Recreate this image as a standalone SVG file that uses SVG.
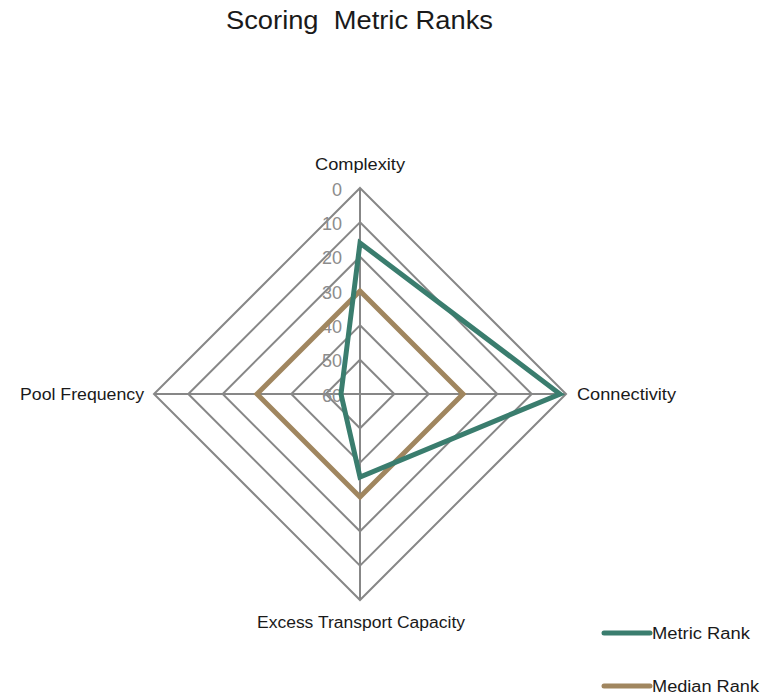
<svg xmlns="http://www.w3.org/2000/svg" width="776" height="697" viewBox="0 0 776 697">
<style>
text{font-family:"Liberation Sans","Noto Sans",sans-serif;fill:#1a1a1a}
.grid{fill:none;stroke:#878787;stroke-width:2}
.tick{fill:#8c8c8c;font-size:18px;text-anchor:end}
.lab{font-size:16px}
.metric{fill:none;stroke:#3a7d6e;stroke-width:5;stroke-linejoin:miter}
.median{fill:none;stroke:#a0865f;stroke-width:5;stroke-linejoin:miter}
</style>
<rect width="776" height="697" fill="#fff"/>
<text x="226" y="29" font-size="25" xml:space="preserve" style="white-space:pre" textLength="267" lengthAdjust="spacingAndGlyphs">Scoring  Metric Ranks</text>
<g id="grid">
<polygon class="grid" points="360,188 566,394 360,600 154,394"/>
<polygon class="grid" points="360,222.3 531.7,394 360,565.7 188.3,394"/>
<polygon class="grid" points="360,256.7 497.3,394 360,531.3 222.7,394"/>
<polygon class="grid" points="360,291 463,394 360,497 257,394"/>
<polygon class="grid" points="360,325.3 428.7,394 360,462.7 291.3,394"/>
<polygon class="grid" points="360,359.7 394.3,394 360,428.3 325.7,394"/>
<line class="grid" x1="360" y1="188" x2="360" y2="600"/>
<line class="grid" x1="154" y1="394" x2="566" y2="394"/>
</g>
<g id="ticks">
<text class="tick" x="342" y="196">0</text>
<text class="tick" x="342" y="230">10</text>
<text class="tick" x="342" y="264">20</text>
<text class="tick" x="342" y="299">30</text>
<text class="tick" x="342" y="333">40</text>
<text class="tick" x="342" y="367">50</text>
<text class="tick" x="342" y="402">60</text>
</g>
<g id="connectors">
<polygon id="median" class="median" points="360,291 463,394 360,497 257,394"/>
<polygon id="metric" class="metric" points="360,243 560,394 360,477 341,394"/>
</g>
<g id="node-complexity"><text class="lab" x="315" y="170" textLength="90" lengthAdjust="spacingAndGlyphs">Complexity</text></g>
<g id="node-connectivity"><text class="lab" x="577" y="400" textLength="99" lengthAdjust="spacingAndGlyphs">Connectivity</text></g>
<g id="node-pool"><text class="lab" x="20" y="400" textLength="124" lengthAdjust="spacingAndGlyphs">Pool Frequency</text></g>
<g id="node-excess"><text class="lab" x="257" y="628" textLength="208" lengthAdjust="spacingAndGlyphs">Excess Transport Capacity</text></g>
<g id="legend">
<line x1="604" y1="633" x2="650" y2="633" stroke="#3a7d6e" stroke-width="5" stroke-linecap="round"/>
<text class="lab" x="652" y="639" textLength="98" lengthAdjust="spacingAndGlyphs">Metric Rank</text>
<line x1="604" y1="686" x2="650" y2="686" stroke="#a0865f" stroke-width="5" stroke-linecap="round"/>
<text class="lab" x="652" y="692" textLength="107" lengthAdjust="spacingAndGlyphs">Median Rank</text>
</g>
</svg>
